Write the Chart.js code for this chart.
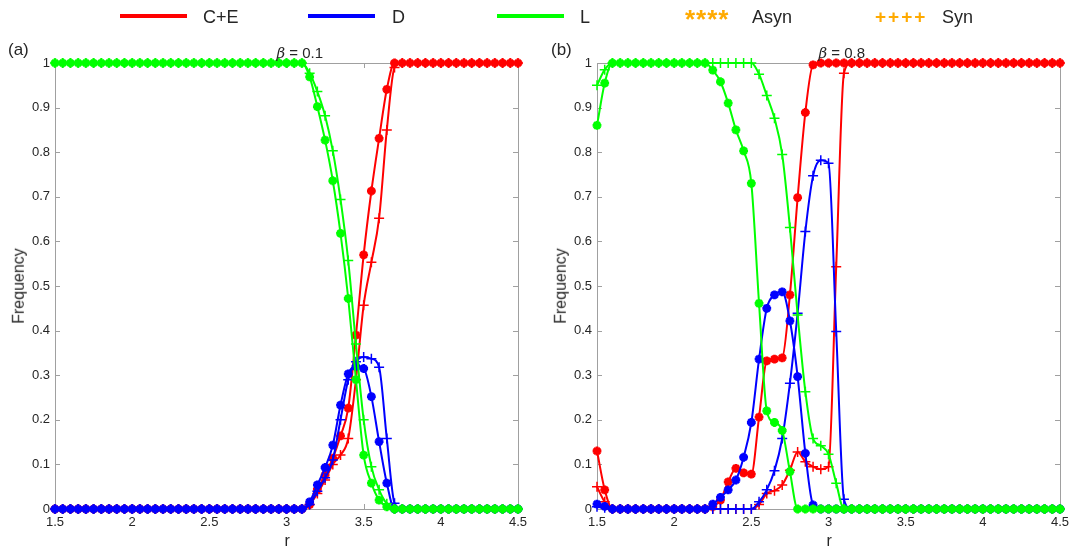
<!DOCTYPE html>
<html>
<head>
<meta charset="utf-8">
<script src="https://cdn.jsdelivr.net/npm/chart.js@4/dist/chart.umd.min.js"></script>
<style>
  html, body { margin:0; padding:0; background:#fff; }
  #wrap { position:relative; width:1083px; height:547px; overflow:hidden; font-family:"Liberation Sans", Arial, sans-serif; color:#262626; }
  canvas { position:absolute; left:0; top:0; }
  .t { position:absolute; white-space:nowrap; line-height:1; }
</style>
</head>
<body>
<div id="wrap">
  <canvas id="c1" width="1083" height="547"></canvas>
  <canvas id="c2" width="1083" height="547"></canvas>
</div>
<script>
// ---------------- data ----------------
const r = [
  1.5,1.55,1.6,1.65,1.7,1.75,1.8,1.85,1.9,1.95,
  2.0,2.05,2.1,2.15,2.2,2.25,2.3,2.35,2.4,2.45,
  2.5,2.55,2.6,2.65,2.7,2.75,2.8,2.85,2.9,2.95,
  3.0,3.05,3.1,3.15,3.2,3.25,3.3,3.35,3.4,3.45,
  3.5,3.55,3.6,3.65,3.7,3.75,3.8,3.85,3.9,3.95,
  4.0,4.05,4.1,4.15,4.2,4.25,4.3,4.35,4.4,4.45,
  4.5];

const seriesNames = ["C+E", "D", "L"];
const modeNames = ["Asyn", "Syn"];

// (a) beta = 0.1
const aCE_asyn = [
  0,0,0,0,0,0,0,0,0,0,
  0,0,0,0,0,0,0,0,0,0,
  0,0,0,0,0,0,0,0,0,0,
  0,0,0,0.01,0.044,0.076,0.114,0.164,0.226,0.39,
  0.57,0.713,0.831,0.941,1,1,1,1,1,1,
  1,1,1,1,1,1,1,1,1,1,
  1];
const aD_asyn = [
  0,0,0,0,0,0,0,0,0,0,
  0,0,0,0,0,0,0,0,0,0,
  0,0,0,0,0,0,0,0,0,0,
  0,0,0,0.016,0.054,0.093,0.143,0.233,0.303,0.32,
  0.315,0.252,0.151,0.058,0,0,0,0,0,0,
  0,0,0,0,0,0,0,0,0,0,
  0];
const aL_asyn = [
  1,1,1,1,1,1,1,1,1,1,
  1,1,1,1,1,1,1,1,1,1,
  1,1,1,1,1,1,1,1,1,1,
  1,1,1,0.969,0.902,0.827,0.736,0.618,0.472,0.29,
  0.121,0.058,0.02,0.005,0,0,0,0,0,0,
  0,0,0,0,0,0,0,0,0,0,
  0];
const aCE_syn = [
  0,0,0,0,0,0,0,0,0,0,
  0,0,0,0,0,0,0,0,0,0,
  0,0,0,0,0,0,0,0,0,0,
  0,0,0,0.01,0.035,0.065,0.1,0.121,0.158,0.29,
  0.457,0.553,0.652,0.85,0.99,1,1,1,1,1,
  1,1,1,1,1,1,1,1,1,1,
  1];
const aD_syn = [
  0,0,0,0,0,0,0,0,0,0,
  0,0,0,0,0,0,0,0,0,0,
  0,0,0,0,0,0,0,0,0,0,
  0,0,0,0.01,0.04,0.07,0.11,0.2,0.29,0.33,
  0.341,0.337,0.318,0.158,0.013,0,0,0,0,0,
  0,0,0,0,0,0,0,0,0,0,
  0];
const aL_syn = [
  1,1,1,1,1,1,1,1,1,1,
  1,1,1,1,1,1,1,1,1,1,
  1,1,1,1,1,1,1,1,1,1,
  1,1,1,0.977,0.936,0.882,0.803,0.694,0.557,0.37,
  0.2,0.095,0.043,0.012,0,0,0,0,0,0,
  0,0,0,0,0,0,0,0,0,0,
  0];

// (b) beta = 0.8
const bCE_asyn = [
  0.13,0.043,0,0,0,0,0,0,0,0,
  0,0,0,0,0,0.005,0.02,0.061,0.091,0.081,
  0.078,0.206,0.332,0.336,0.339,0.48,0.698,0.889,0.996,1,
  1,1,1,1,1,1,1,1,1,1,
  1,1,1,1,1,1,1,1,1,1,
  1,1,1,1,1,1,1,1,1,1,
  1];
const bD_asyn = [
  0.011,0.006,0,0,0,0,0,0,0,0,
  0,0,0,0,0,0.011,0.026,0.043,0.065,0.116,
  0.194,0.336,0.45,0.48,0.487,0.422,0.297,0.125,0.009,0,
  0,0,0,0,0,0,0,0,0,0,
  0,0,0,0,0,0,0,0,0,0,
  0,0,0,0,0,0,0,0,0,0,
  0];
const bL_asyn = [
  0.86,0.955,1,1,1,1,1,1,1,1,
  1,1,1,1,1,0.984,0.958,0.91,0.85,0.803,
  0.73,0.461,0.22,0.194,0.176,0.084,0,0,0,0,
  0,0,0,0,0,0,0,0,0,0,
  0,0,0,0,0,0,0,0,0,0,
  0,0,0,0,0,0,0,0,0,0,
  0];
const bCE_syn = [
  0.05,0.016,0,0,0,0,0,0,0,0,
  0,0,0,0,0,0,0,0,0,0,
  0,0.01,0.035,0.041,0.054,0.087,0.128,0.106,0.095,0.089,
  0.095,0.543,0.977,1,1,1,1,1,1,1,
  1,1,1,1,1,1,1,1,1,1,
  1,1,1,1,1,1,1,1,1,1,
  1];
const bD_syn = [
  0.005,0.003,0,0,0,0,0,0,0,0,
  0,0,0,0,0,0,0,0,0,0,
  0,0.016,0.043,0.086,0.158,0.282,0.439,0.622,0.747,0.782,
  0.775,0.398,0.022,0,0,0,0,0,0,0,
  0,0,0,0,0,0,0,0,0,0,
  0,0,0,0,0,0,0,0,0,0,
  0];
const bL_syn = [
  0.95,0.985,1,1,1,1,1,1,1,1,
  1,1,1,1,1,1,1,1,1,1,
  1,0.975,0.927,0.876,0.795,0.631,0.435,0.263,0.158,0.142,
  0.123,0.058,0,0,0,0,0,0,0,0,
  0,0,0,0,0,0,0,0,0,0,
  0,0,0,0,0,0,0,0,0,0,
  0];

const xTicks = [1.5, 2, 2.5, 3, 3.5, 4, 4.5];
const xTickLabels = ["1.5", "2", "2.5", "3", "3.5", "4", "4.5"];
const yTicks = [0, 0.1, 0.2, 0.3, 0.4, 0.5, 0.6, 0.7, 0.8, 0.9, 1];
const yTickLabels = ["0", "0.1", "0.2", "0.3", "0.4", "0.5", "0.6", "0.7", "0.8", "0.9", "1"];

// ---------------- styling ----------------
const COL = { ce: "#ff0000", d: "#0000ff", l: "#00ff00" };
const FONT = "'Liberation Sans', Arial, sans-serif";
const TXT = "#262626";
const AXC = "#a0a0a0";

function pts(vals) { return r.map((x, i) => ({ x: x, y: vals[i] })); }

function ds(label, vals, color, asyn) {
  return {
    label: label,
    data: pts(vals),
    borderColor: color,
    backgroundColor: color,
    borderWidth: 2,
    cubicInterpolationMode: "monotone",
    pointStyle: asyn ? "star" : "cross",
    pointRadius: asyn ? 4.4 : 5,
    pointBorderWidth: asyn ? 2.8 : 1.5,
    pointBorderColor: color,
    pointBackgroundColor: color,
    clip: false
  };
}

const boxPlugin = {
  id: "box",
  beforeDatasetsDraw(chart) {
    const ctx = chart.ctx, a = chart.chartArea;
    const xs = chart.scales.x, ys = chart.scales.y;
    ctx.save();
    ctx.strokeStyle = AXC;
    ctx.lineWidth = 1;
    ctx.beginPath();
    ctx.rect(Math.round(a.left) + 0.5, Math.round(a.top) + 0.5,
             Math.round(a.right - a.left), Math.round(a.bottom - a.top));
    const L = 5;
    xTicks.forEach(v => {
      const px = Math.round(xs.getPixelForValue(v)) + 0.5;
      ctx.moveTo(px, a.bottom); ctx.lineTo(px, a.bottom - L);
      ctx.moveTo(px, a.top); ctx.lineTo(px, a.top + L);
    });
    yTicks.forEach(v => {
      const py = Math.round(ys.getPixelForValue(v)) + 0.5;
      ctx.moveTo(a.left, py); ctx.lineTo(a.left + L, py);
      ctx.moveTo(a.right, py); ctx.lineTo(a.right - L, py);
    });
    ctx.stroke();
    ctx.restore();
  }
};

function makeChart(id, padLeft, padRight, yWidth, sets) {
  const [ce_a, d_a, l_a, ce_s, d_s, l_s] = sets;
  return new Chart(document.getElementById(id), {
    type: "line",
    data: {
      datasets: [
        ds(seriesNames[2] + " " + modeNames[0], l_a, COL.l, true),
        ds(seriesNames[2] + " " + modeNames[1], l_s, COL.l, false),
        ds(seriesNames[1] + " " + modeNames[0], d_a, COL.d, true),
        ds(seriesNames[1] + " " + modeNames[1], d_s, COL.d, false),
        ds(seriesNames[0] + " " + modeNames[0], ce_a, COL.ce, true),
        ds(seriesNames[0] + " " + modeNames[1], ce_s, COL.ce, false)
      ]
    },
    options: {
      responsive: false,
      animation: false,
      devicePixelRatio: 1,
      events: [],
      layout: { padding: { left: padLeft, right: padRight, top: 63, bottom: 0 } },
      plugins: { legend: { display: false }, tooltip: { enabled: false }, title: { display: false } },
      scales: {
        x: {
          type: "linear", min: 1.5, max: 4.5,
          afterBuildTicks: s => { s.ticks = xTicks.map(v => ({ value: v })); },
          afterFit: s => { s.height = 38; },
          grid: { display: false, drawTicks: false }, border: { display: false },
          ticks: {
            autoSkip: false, maxRotation: 0, padding: 6,
            color: TXT, font: { family: FONT, size: 13 },
            callback: (v, i) => xTickLabels[i]
          }
        },
        y: {
          type: "linear", min: 0, max: 1,
          afterBuildTicks: s => { s.ticks = yTicks.map(v => ({ value: v })); },
          afterFit: s => { s.width = yWidth; },
          grid: { display: false, drawTicks: false }, border: { display: false },
          ticks: {
            autoSkip: false, padding: 5,
            color: TXT, font: { family: FONT, size: 13 },
            callback: (v, i) => yTickLabels[i]
          }
        }
      }
    },
    plugins: [boxPlugin]
  });
}

makeChart("c1", 0, 1083 - 518, 55, [aCE_asyn, aD_asyn, aL_asyn, aCE_syn, aD_syn, aL_syn]);
makeChart("c2", 541, 1083 - 1060, 56, [bCE_asyn, bD_asyn, bL_asyn, bCE_syn, bD_syn, bL_syn]);

// ---------------- text: legend, titles, labels ----------------
const wrap = document.getElementById("wrap");
function addText(html, css) {
  const d = document.createElement("div");
  d.className = "t";
  d.innerHTML = html;
  Object.assign(d.style, css);
  wrap.appendChild(d);
  return d;
}
function addLine(x1, x2, y, color) {
  const d = document.createElement("div");
  Object.assign(d.style, { position: "absolute", left: x1 + "px", top: (y - 2) + "px",
    width: (x2 - x1) + "px", height: "4px", background: color });
  wrap.appendChild(d);
}
// legend
addLine(120, 187, 16, COL.ce);
addText(seriesNames[0], { left: "203px", top: "8px", fontSize: "18px" });
addLine(308, 375, 16, COL.d);
addText(seriesNames[1], { left: "392px", top: "8px", fontSize: "18px" });
addLine(497, 564, 16, COL.l);
addText(seriesNames[2], { left: "580px", top: "8px", fontSize: "18px" });
addText("****", { left: "685px", top: "6px", fontSize: "26px", fontWeight: "bold", color: "#ffaa00", letterSpacing: "1px" });
addText(modeNames[0], { left: "752px", top: "8px", fontSize: "18px" });
addText("++++", { left: "875px", top: "7px", fontSize: "19px", fontWeight: "bold", color: "#ffaa00", letterSpacing: "2px" });
addText(modeNames[1], { left: "942px", top: "8px", fontSize: "18px" });

// panel labels
addText("(a)", { left: "8px", top: "41px", fontSize: "17px" });
addText("(b)", { left: "551px", top: "41px", fontSize: "17px" });

// titles
function title(cx, val) {
  const d = addText('<i style="font-family:\'DejaVu Serif\',serif">β</i> = ' + val,
    { top: "45px", fontSize: "15px" });
  d.style.left = (cx - d.offsetWidth / 2) + "px";
}
title(300, "0.1");
title(842, "0.8");

// axis labels
function ylab(cx) {
  const d = addText("Frequency", { fontSize: "16px" });
  const w = d.offsetWidth, h = d.offsetHeight;
  d.style.left = (cx - w / 2) + "px";
  d.style.top = (286 - h / 2) + "px";
  d.style.transform = "rotate(-90deg)";
}
ylab(19);
ylab(561);
function xlab(cx) {
  const d = addText("r", { fontSize: "16px", top: "533px" });
  d.style.left = (cx - d.offsetWidth / 2) + "px";
}
xlab(287);
xlab(829);
</script>
</body>
</html>
